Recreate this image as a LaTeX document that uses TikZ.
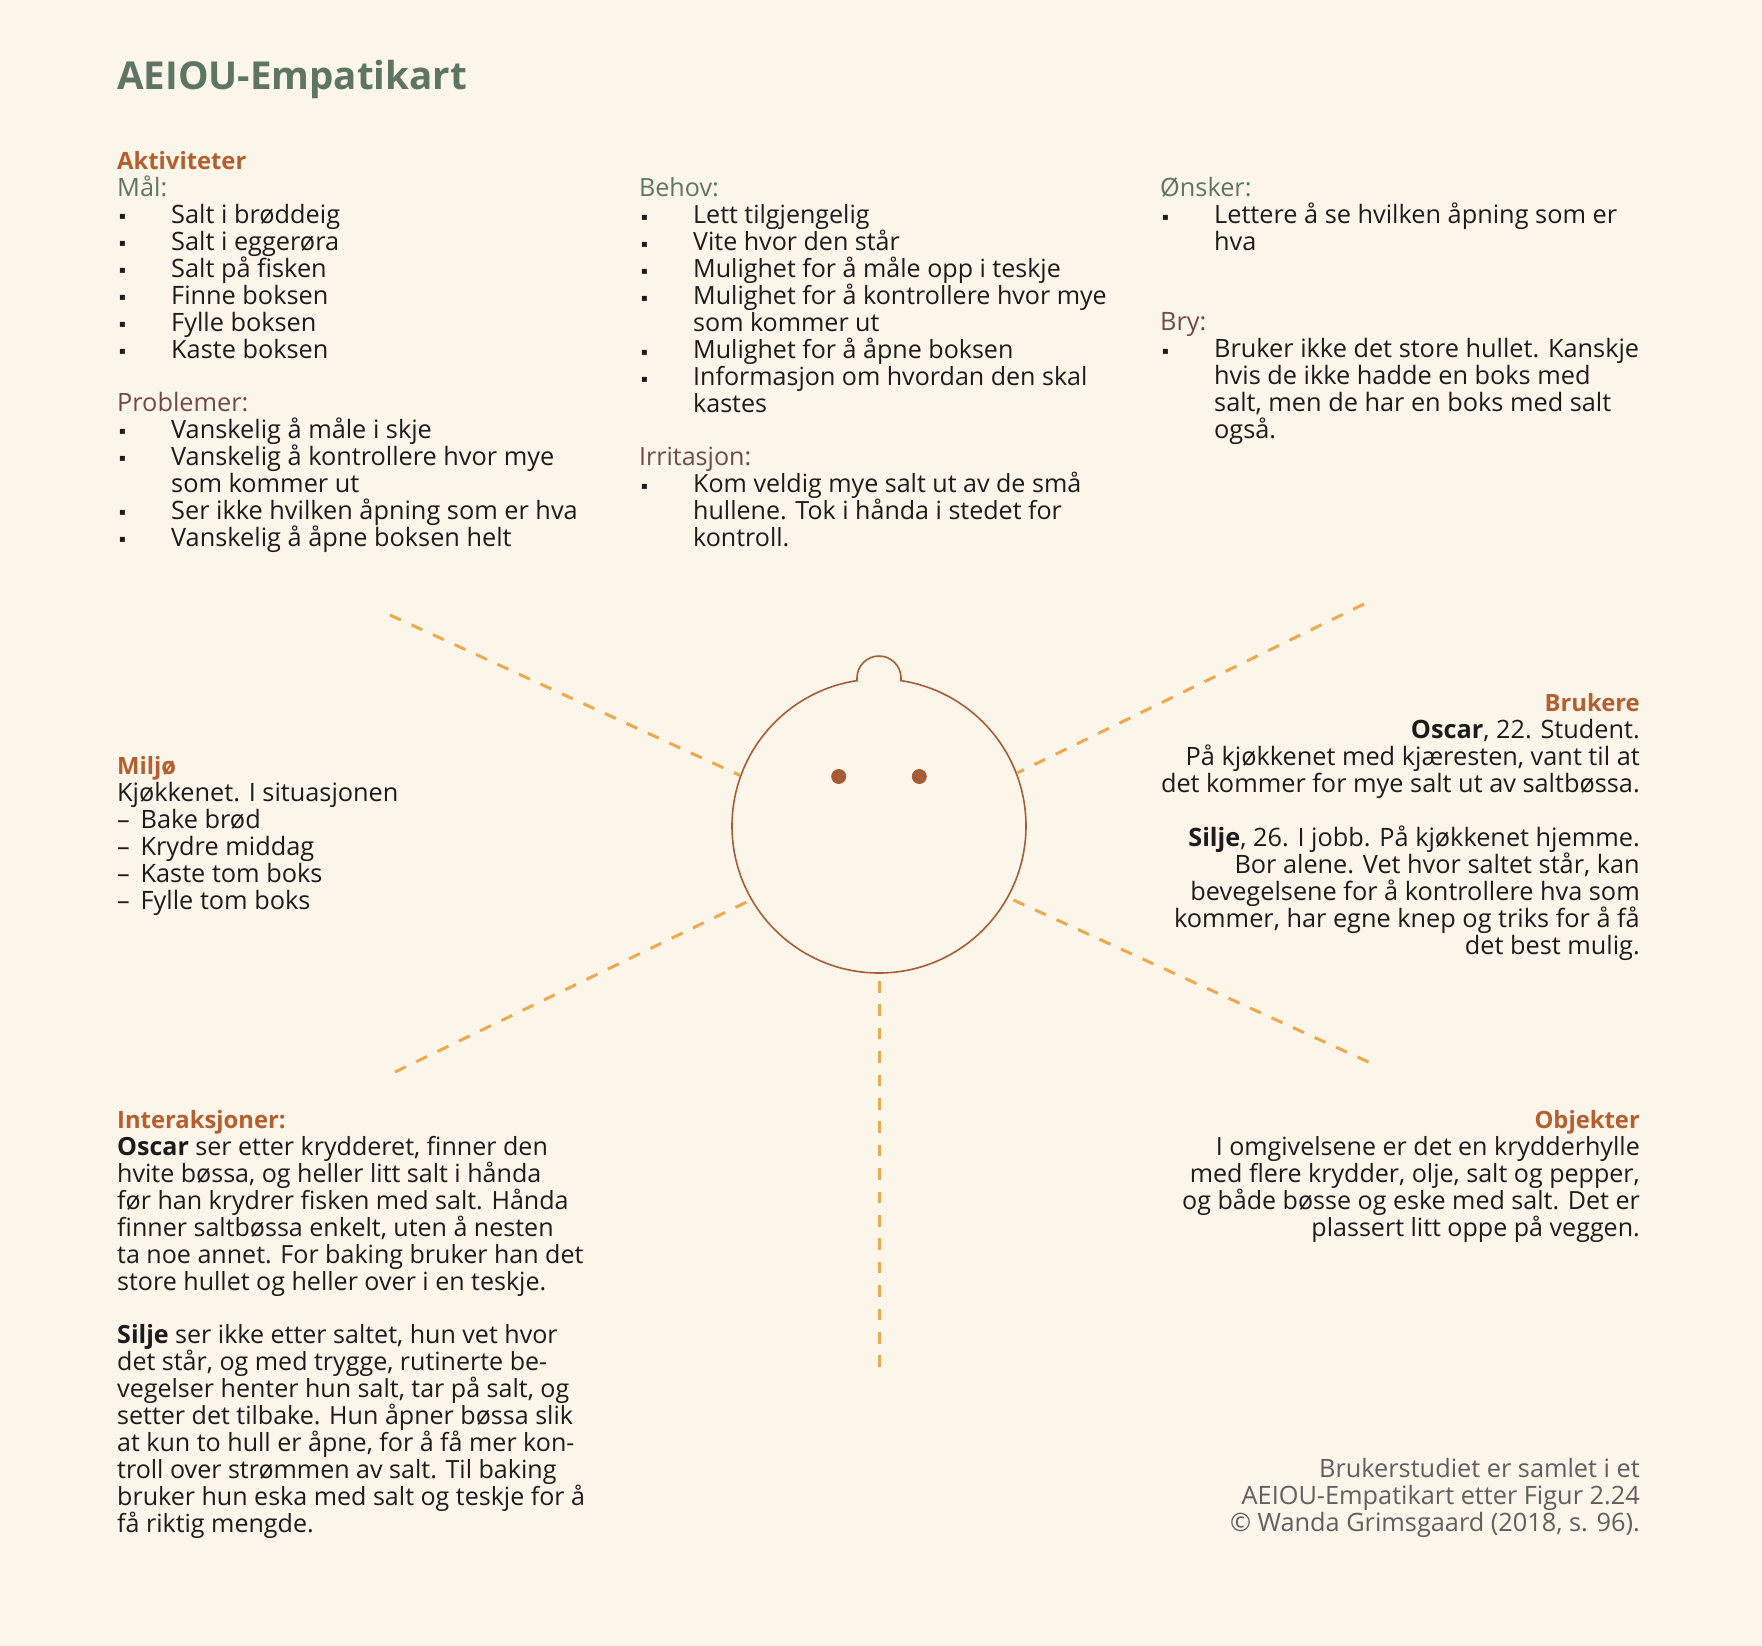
\documentclass[tikz,border=0pt]{standalone}
\usepackage{fontspec}
\usepackage{xcolor}
\setmainfont{Open Sans}
\newfontfamily\symbolfont{DejaVu Sans}
\usetikzlibrary{positioning}
\definecolor{bakgrunn}{HTML}{FCF5E9}
\definecolor{tittelgronn}{HTML}{5E7562}
\definecolor{oransje}{HTML}{B45F2F}
\definecolor{hodebrun}{HTML}{A65C38}
\definecolor{strek}{HTML}{EDA94F}
\definecolor{vinrod}{HTML}{6E4A4A}
\definecolor{brodsvart}{HTML}{1C1C1C}
\definecolor{kildegra}{HTML}{5F5F5F}
\newcommand{\brodtekst}{\fontsize{25.3}{27}\selectfont}
\newcommand{\smaltekst}{\fontsize{25.05}{27}\selectfont}
\newcommand{\tittelfont}{\fontsize{38.5}{44}\selectfont\bfseries}
\newcommand{\pkt}{\makebox[54pt][l]{\hspace*{2pt}\raisebox{3.5pt}{\fontsize{10}{10}\symbolfont ▪}}}
\newcommand{\inn}{\hspace*{54pt}}
\newcommand{\tk}{–\hspace{10.8pt}}
\newcommand{\hode}[1]{\textcolor{oransje}{\fontsize{23.8}{27}\selectfont\bfseries #1}}
\newcommand{\gronn}[1]{\textcolor{tittelgronn}{#1}}
\newcommand{\rod}[1]{\textcolor{vinrod}{#1}}
\begin{document}
\begin{tikzpicture}[x=1pt, y=-1pt, blokk/.style={inner sep=0pt, anchor=north west, align=left, font=\brodtekst, text=brodsvart}, hoyreblokk/.style={inner sep=0pt, anchor=north east, align=right, font=\brodtekst, text=brodsvart}, line/.style={draw=strek, line width=3pt, dash pattern=on 12pt off 11.64pt}]
\fill[bakgrunn] (0,0) rectangle (1762,1646);
\useasboundingbox (0,0) rectangle (1762,1646);
\node[inner sep=0pt, anchor=base west, font=\tittelfont, text=tittelgronn] (tittel) at (117,89) {AEIOU-Empatikart};
\node[blokk] (aktiviteter) at (117,149) {\rule{0pt}{20pt}\hode{Aktiviteter}\\ \gronn{Mål:}\\ \pkt Salt i brøddeig\\ \pkt Salt i eggerøra\\ \pkt Salt på fisken\\ \pkt Finne boksen\\ \pkt Fylle boksen\\ \pkt Kaste boksen\\[26pt] \rod{Problemer:}\\ \pkt Vanskelig å måle i skje\\ \pkt Vanskelig å kontrollere hvor mye\\ \inn som kommer ut\\ \pkt Ser ikke hvilken åpning som er hva\\ \pkt Vanskelig å åpne boksen helt};
\node[blokk, font=\smaltekst] (behov) at (639,176.5) {\rule{0pt}{20pt}\gronn{Behov:}\\ \pkt Lett tilgjengelig\\ \pkt Vite hvor den står\\ \pkt Mulighet for å måle opp i teskje\\ \pkt Mulighet for å kontrollere hvor mye\\ \inn som kommer ut\\ \pkt Mulighet for å åpne boksen\\ \pkt Informasjon om hvordan den skal\\ \inn kastes\\[26pt] \rod{Irritasjon:}\\ \pkt Kom veldig mye salt ut av de små\\ \inn hullene. Tok i hånda i stedet for\\ \inn kontroll.};
\node[blokk] (onsker) at (1160,176.5) {\rule{0pt}{20pt}\gronn{Ønsker:}\\ \pkt Lettere å se hvilken åpning som er\\ \inn hva\\[53pt] \rod{Bry:}\\ \pkt Bruker ikke det store hullet. Kanskje\\ \inn hvis de ikke hadde en boks med\\ \inn salt, men de har en boks med salt\\ \inn også.};
\node[blokk] (miljo) at (117,754) {\rule{0pt}{20pt}\hode{Miljø}\\ Kjøkkenet. I situasjonen\\ \tk Bake brød\\ \tk Krydre middag\\ \tk Kaste tom boks\\ \tk Fylle tom boks};
\node[hoyreblokk] (brukere) at (1640,691) {\rule{0pt}{20pt}\hode{Brukere}\\ \textbf{Oscar}, 22. Student.\\ På kjøkkenet med kjæresten, vant til at\\ det kommer for mye salt ut av saltbøssa.\\[27pt] \textbf{Silje}, 26. I jobb. På kjøkkenet hjemme.\\ Bor alene. Vet hvor saltet står, kan\\ bevegelsene for å kontrollere hva som\\ kommer, har egne knep og triks for å få\\ det best mulig.};
\node[blokk, font=\smaltekst] (interaksjoner) at (117,1108) {\rule{0pt}{20pt}\hode{Interaksjoner:}\\ \textbf{Oscar} ser etter krydderet, finner den\\ hvite bøssa, og heller litt salt i hånda\\ før han krydrer fisken med salt. Hånda\\ finner saltbøssa enkelt, uten å nesten\\ ta noe annet. For baking bruker han det\\ store hullet og heller over i en teskje.\\[26pt] \textbf{Silje} ser ikke etter saltet, hun vet hvor\\ det står, og med trygge, rutinerte be-\\ vegelser henter hun salt, tar på salt, og\\ setter det tilbake. Hun åpner bøssa slik\\ at kun to hull er åpne, for å få mer kon-\\ troll over strømmen av salt. Til baking\\ bruker hun eska med salt og teskje for å\\ få riktig mengde.};
\node[hoyreblokk, font=\smaltekst] (objekter) at (1640,1108) {\rule{0pt}{20pt}\hode{Objekter}\\ I omgivelsene er det en krydderhylle\\ med flere krydder, olje, salt og pepper,\\ og både bøsse og eske med salt. Det er\\ plassert litt oppe på veggen.};
\node[hoyreblokk, text=kildegra] (kilde) at (1640,1457) {\rule{0pt}{20pt}Brukerstudiet er samlet i et\\ AEIOU-Empatikart etter Figur 2.24\\ © Wanda Grimsgaard (2018, s. 96).};
\node[circle, draw=hodebrun, line width=1.6pt, minimum size=294pt, inner sep=0pt] (hodering) at (879,826) {};
\draw[hodebrun, line width=1.6pt, fill=bakgrunn] (857,681) -- (857,678) arc (180:360:22) -- (901,681);
\node[circle, fill=hodebrun, minimum size=15pt, inner sep=0pt] (oyev) at (838.7,776.5) {};
\node[circle, fill=hodebrun, minimum size=15pt, inner sep=0pt] (oyeh) at (919.3,776.5) {};
\coordinate (nv) at (390,615);
\coordinate (no) at (1364,604);
\coordinate (sv) at (395,1072);
\coordinate (so) at (1368.5,1062);
\coordinate (s) at (879,1367);
\draw[line] (nv) -- (hodering.160);
\draw[line] (no) -- (hodering.21);
\draw[line, shorten >=4.9pt] (sv) -- (hodering.210);
\draw[line, shorten >=5.4pt] (so) -- (hodering.-29);
\draw[line, shorten >=4.5pt, dash pattern=on 11.7pt off 11.7pt] (s) -- (hodering.270);
\end{tikzpicture}
\end{document}
